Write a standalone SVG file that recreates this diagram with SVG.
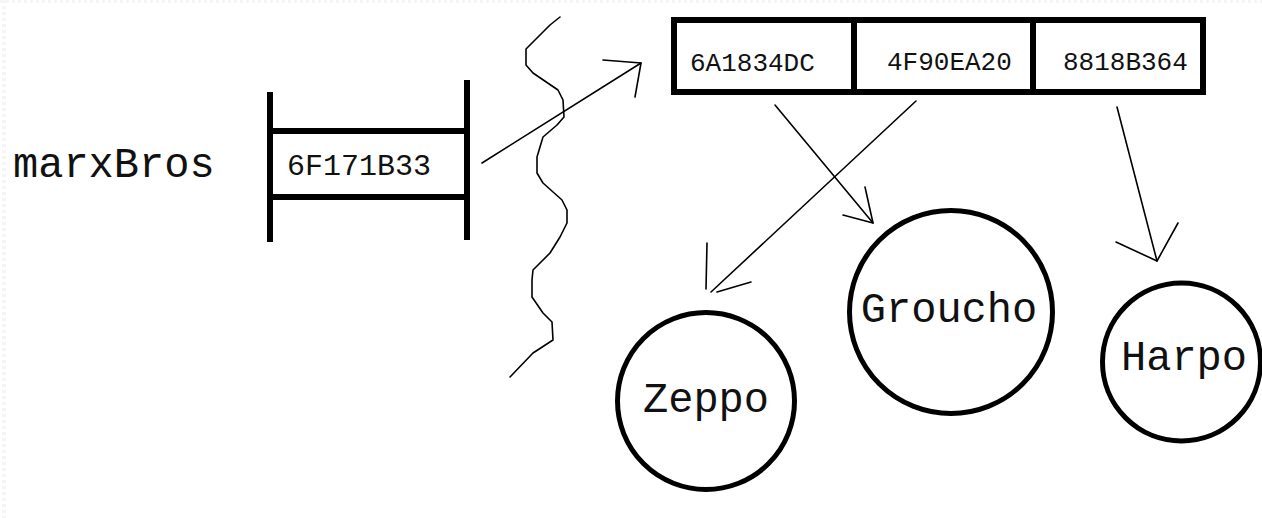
<svg xmlns="http://www.w3.org/2000/svg" width="1262" height="518" viewBox="0 0 1262 518">
  <style>
    .mono { font-family: "Liberation Mono", "Courier New", monospace; fill: #111; }
    .heavy { fill: none; stroke: #000; stroke-width: 6; stroke-linecap: butt; }
    .ring { fill: #fff; stroke: #000; stroke-width: 5; }
    .wire { fill: none; stroke: #000; stroke-width: 1.6; stroke-linecap: round; stroke-linejoin: round; }
    .edge { fill: none; stroke: #f5f5f5; stroke-width: 4; stroke-dasharray: 3 3; }
  </style>

  <rect x="0" y="0" width="1262" height="518" fill="#fff"/>
  <!-- faint page edge -->
  <line class="edge" x1="4" y1="0" x2="4" y2="518"/>
  <line class="edge" x1="0" y1="1" x2="1262" y2="1"/>

  <!-- variable name -->
  <g id="label-marxBros">
    <text class="mono" x="13" y="177" font-size="42">marxBros</text>
  </g>

  <!-- reference cell on the stack -->
  <g id="ref-cell">
    <line class="heavy" x1="270" y1="92" x2="270" y2="242"/>
    <line class="heavy" x1="467" y1="80" x2="467" y2="240"/>
    <line class="heavy" x1="270" y1="131" x2="467" y2="131"/>
    <line class="heavy" x1="270" y1="197" x2="467" y2="197"/>
    <text class="mono" x="287" y="175" font-size="30">6F171B33</text>
  </g>

  <!-- array of references on the heap -->
  <g id="array">
    <rect class="heavy" x="674" y="20" width="529" height="72"/>
    <line class="heavy" x1="854" y1="20" x2="854" y2="92"/>
    <line class="heavy" x1="1033" y1="20" x2="1033" y2="92"/>
    <text class="mono" x="690" y="71" font-size="26">6A1834DC</text>
    <text class="mono" x="887" y="70" font-size="26">4F90EA20</text>
    <text class="mono" x="1063" y="70" font-size="26">8818B364</text>
  </g>

  <!-- objects -->
  <g id="node-zeppo">
    <circle class="ring" cx="706" cy="401" r="88.5"/>
    <text class="mono" x="706" y="412" font-size="42" text-anchor="middle">Zeppo</text>
  </g>
  <g id="node-groucho">
    <circle class="ring" cx="951" cy="312" r="101.5"/>
    <text class="mono" x="949" y="322" font-size="42" text-anchor="middle">Groucho</text>
  </g>
  <g id="node-harpo">
    <circle class="ring" cx="1181.5" cy="362" r="79"/>
    <text class="mono" x="1184" y="370" font-size="42" text-anchor="middle">Harpo</text>
  </g>

  <!-- stack / heap boundary and pointers -->
  <g id="connectors">
    <polyline class="wire" points="560,17 550,25 526,49 526,65 533,73 558,90 563,100 564,117 557,125 543,137 537,157 537,173 543,183 562,200 567,210 567,223 560,237 550,253 533,270 532,280 532,297 543,313 552,322 553,340 533,353 510,377"/>

    <!-- marxBros -> array -->
    <line class="wire" x1="482" y1="163" x2="641" y2="63"/>
    <polyline class="wire" points="603,60 641,63 635,97"/>

    <!-- slot 0 -> Groucho -->
    <line class="wire" x1="775" y1="105" x2="873" y2="223"/>
    <polyline class="wire" points="865,187 873,223 843,215"/>

    <!-- slot 1 -> Zeppo -->
    <line class="wire" x1="916" y1="101" x2="711" y2="292"/>
    <line class="wire" x1="707" y1="243" x2="706" y2="289"/>
    <line class="wire" x1="751" y1="282" x2="717" y2="292"/>

    <!-- slot 2 -> Harpo -->
    <line class="wire" x1="1117" y1="107" x2="1157" y2="261"/>
    <polyline class="wire" points="1116,242 1157,261 1178,223"/>
  </g>
</svg>
